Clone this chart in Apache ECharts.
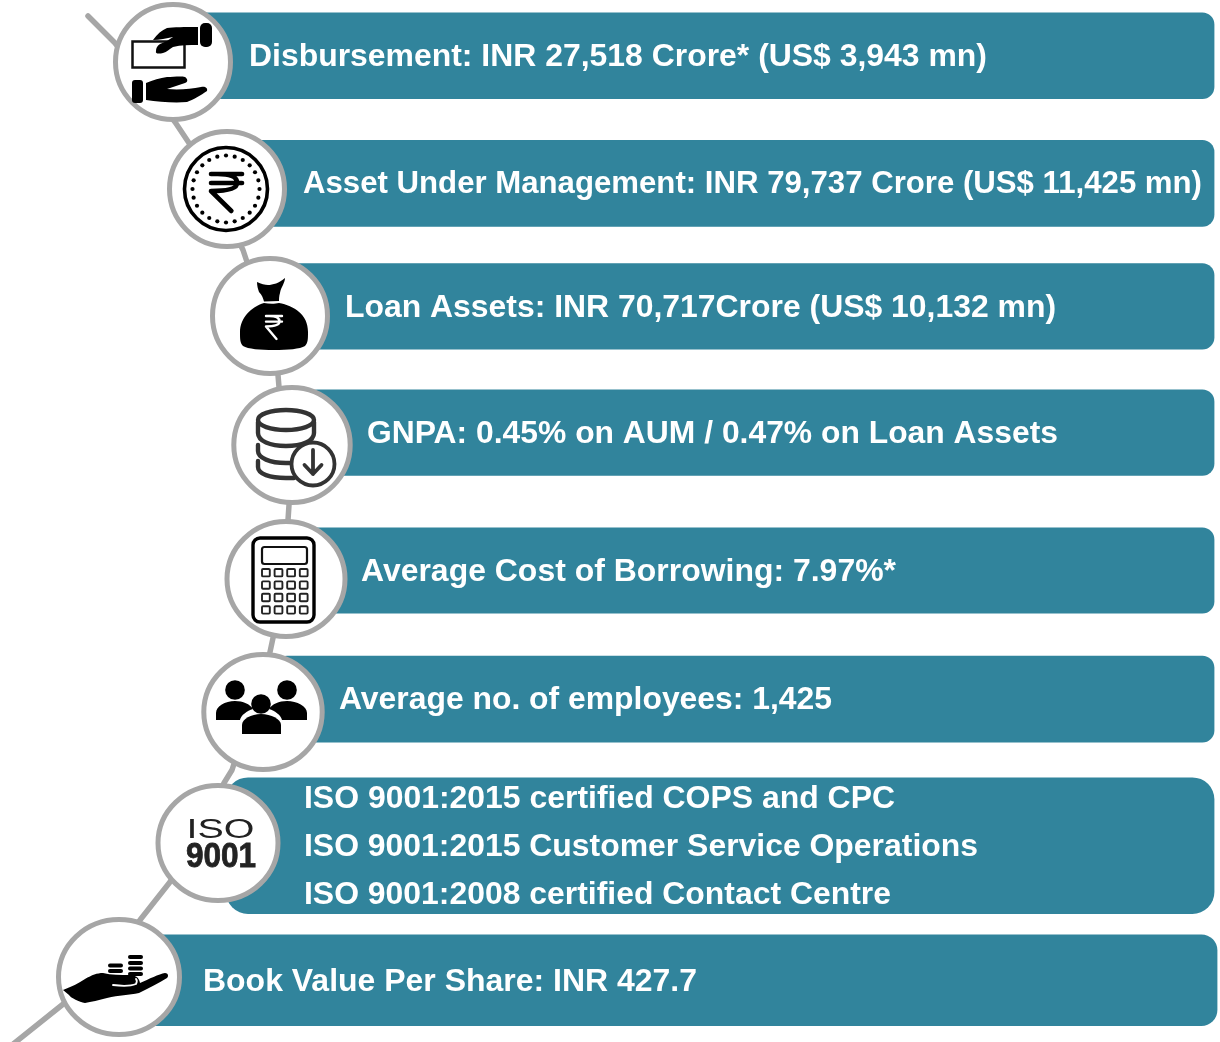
<!DOCTYPE html>
<html>
<head>
<meta charset="utf-8">
<title>Key highlights</title>
<script src="https://cdn.jsdelivr.net/npm/echarts@6/dist/echarts.min.js"></script>
<style>
  html, body { margin: 0; padding: 0; background: #fff; }
  #chart { width: 1220px; height: 1042px; }
</style>
</head>
<body>
<div id="chart"></div>
<script>
// text of each row, top to bottom
const rowLabels = [
  'Disbursement: INR 27,518 Crore* (US$ 3,943 mn)',
  'Asset Under Management: INR 79,737 Crore (US$ 11,425 mn)',
  'Loan Assets: INR 70,717Crore (US$ 10,132 mn)',
  'GNPA: 0.45% on AUM / 0.47% on Loan Assets',
  'Average Cost of Borrowing: 7.97%*',
  'Average no. of employees: 1,425',
  'ISO 9001:2015 certified COPS and CPC',
  'ISO 9001:2015 Customer Service Operations',
  'ISO 9001:2008 certified Contact Centre',
  'Book Value Per Share: INR 427.7'
]
const rowIcons = ['hands', 'coin', 'bag', 'database', 'calculator', 'people', 'iso', 'palm']
const isoBadge = ['ISO', '9001']

// layout, in picture pixels (the axes below run 0-1220 and 0-1042)
const barBoxes = [
  [190, 12.6, 1214.4, 99, 12, 12],
  [240, 140, 1214.4, 226.7, 12, 12],
  [285, 263.3, 1214.4, 349.6, 12, 12],
  [305, 389.4, 1214.4, 475.8, 12, 12],
  [300, 527.4, 1214.4, 613.6, 12, 12],
  [275, 655.7, 1214.4, 742.4, 12, 12],
  [226, 777.4, 1214.4, 914, 22, 22],
  [125, 934.4, 1217.4, 1026, 16, 16]
]
// centre x, centre y, half width of the ring (the lower rings are a bit stretched)
const circleCentres = [
  [173, 62, 60], [227, 189, 60], [270, 316, 60], [292, 445, 60.7],
  [286, 579, 61.5], [263, 712, 61.7], [218, 843, 62.5], [119, 977, 63]
]
const spineX = [88, 115, 175, 189, 243, 247, 278, 279, 289, 288, 273, 270, 232, 224, 170, 140, 62, 12]
const spineY = [16, 43, 122, 143, 250, 262, 375, 387, 505, 520, 638, 652, 770, 783, 882, 920, 1005, 1045]
// x, middle y, width
const labelBoxes = [
  [249, 57, 738], [303, 184, 899], [345, 308, 711], [367, 434, 691], [361, 572, 535],
  [339, 700, 493], [304, 799, 591], [304, 847, 674], [304, 895, 587], [203, 982, 494]
]

const TEAL = '#31849c'
const GREY = '#a6a6a6'
const LABEL_FONT = 'bold 31px "Liberation Sans", Arial, sans-serif'

// icon pieces are drawn in a 120x120 box around the circle centre
const piece = (d, style) => ({
  type: 'path',
  shape: { pathData: 'M0 0M120 120' + d, x: 0, y: 0, width: 120, height: 120, layout: 'cover' },
  style: style
})
const solid = (d, color) => piece(d, { fill: color || '#000' })
const outline = (d, width, color, fill) => piece(d, {
  fill: fill || 'none',
  stroke: color || '#000',
  lineWidth: width,
  lineCap: 'round',
  lineJoin: 'round'
})
const box = (x, y, w, h, r, style) => ({ type: 'rect', shape: { x, y, width: w, height: h, r }, style })
const rupee = (x, y, sx, sy) => {
  const p = (a, b) => (x + a * sx) + ' ' + (y + b * sy)
  return 'M' + p(0, 0) + 'L' + p(32, 0) + 'M' + p(0, 9) + 'L' + p(32, 9)
    + 'M' + p(7, 0) + 'C' + p(22, 0) + ' ' + p(27, 4) + ' ' + p(27, 9)
    + 'C' + p(27, 14) + ' ' + p(20, 17) + ' ' + p(0, 17) + 'L' + p(21, 37)
}

const iconShapes = {
  hands: () => [
    box(87, 21, 12, 24, 5, { fill: '#000' }),
    box(19.500, 39.500, 52, 26, 0, { fill: 'none', stroke: '#111', lineWidth: 2.5 }),
    solid('M40 38C44 32 49 28 54 26C60 25 72 25 85 25L85 43C76 43 68 43 60 45C56 47 54 50 50 51C46 52 42 52 43 49C43 46 44 44 47 42C52 40 56 38 60 35C54 36 46 38 40 38Z'),
    box(19, 78, 11, 23, 3, { fill: '#000' }),
    solid('M33 81C40 78 47 76 54 75C60 75 68 74 72 75C75 77 75 80 72 81C66 83 60 85 54 87C66 88 78 87 88 85C92 84 95 86 94 89C88 93 80 98 74 100C62 101 46 100 33 98Z')
  ],
  coin: () => {
    const dots = []
    for (let i = 0; i < 24; i++) {
      const a = i / 24 * Math.PI * 2
      dots.push({
        type: 'circle',
        shape: { cx: 59 + 33.5 * Math.cos(a), cy: 60 + 33.5 * Math.sin(a), r: 2.1 },
        style: { fill: '#000' }
      })
    }
    return [
      { type: 'circle', shape: { cx: 59, cy: 60, r: 41.5 }, style: { fill: '#fff', stroke: '#000', lineWidth: 3.6 } },
      ...dots,
      outline(rupee(44, 45, 0.97, 1), 4.6)
    ]
  },
  bag: () => [
    solid('M47 26C51 28 55 29 58 29C63 29 69 27 75 22C75 27 71 31 70 37C69 40 69 43 69 45L54 45.500C53 42 52 39 49 36C48 33 47 30 47 26Z'),
    solid('M54 47C59 48 65 48 69 47C84 50 98 58 98 76C98 83 98 87 95 90C90 93 78 94 64 94C50 94 38 93 33 90C30 87 30 83 30 76C30 62 41 51 54 47Z'),
    outline(rupee(56, 60, 0.5, 0.62), 2.4, '#fff')
  ],
  database: () => [
    { type: 'ellipse', shape: { cx: 54, cy: 35, rx: 28, ry: 10 }, style: { fill: '#fff', stroke: '#333', lineWidth: 4.4 } },
    outline('M26 37L26 48C26 56 38 61 54 61C70 61 82 56 82 48L82 37', 4.4, '#333'),
    outline('M26 60L26 66C26 73 38 78 54 78L60 78', 4.4, '#333'),
    outline('M26 76L26 82C26 89 38 93 54 93L62 93', 4.4, '#333'),
    { type: 'circle', shape: { cx: 81, cy: 79, r: 21.5 }, style: { fill: '#fff', stroke: '#333', lineWidth: 3.8 } },
    outline('M81 65L81 89M72.500 80L81 89L89.500 80', 3.8, '#333')
  ],
  calculator: () => {
    const keys = []
    for (let r = 0; r < 4; r++) {
      for (let c = 0; c < 4; c++) {
        keys.push(box(36 + c * 12.6, 50 + r * 12.4, 7.8, 7.4, 1, { fill: 'none', stroke: '#222', lineWidth: 1.9 }))
      }
    }
    return [
      box(27, 19, 61, 84, 7, { fill: '#fff', stroke: '#000', lineWidth: 3.4 }),
      box(36, 28, 45, 17, 2.5, { fill: 'none', stroke: '#111', lineWidth: 2.2 }),
      ...keys
    ]
  },
  people: () => [
    { type: 'circle', shape: { cx: 32, cy: 38, r: 9.8 }, style: { fill: '#000' } },
    { type: 'circle', shape: { cx: 84, cy: 38, r: 9.8 }, style: { fill: '#000' } },
    solid('M13 68L13 61C13 54 22 49 32 49C40 49 47 52 50 57C44 59 38 63 37 68Z'),
    solid('M104 68L104 61C104 54 94 49 84 49C76 49 69 52 66 57C72 59 78 63 79 68Z'),
    { type: 'circle', shape: { cx: 58, cy: 52, r: 9.8 }, style: { fill: '#000' } },
    solid('M39 82L39 73C39 67 48 62 58 62C68 62 78 67 78 73L78 82Z')
  ],
  iso: () => [
    {
      type: 'text', x: 62.500, y: 47.500, scaleX: 1.46,
      style: { text: isoBadge[0], font: '27px "Liberation Sans", Arial, sans-serif', fill: '#222', align: 'center', verticalAlign: 'middle' }
    },
    {
      type: 'text', x: 63, y: 74, scaleX: 0.9, 
      style: { text: isoBadge[1], font: 'bold 35px "Liberation Sans", Arial, sans-serif', fill: '#222', stroke: '#222', lineWidth: 0.8, align: 'center', verticalAlign: 'middle' }
    }
  ],
  palm: () => [
    box(69, 38, 15, 4, 2, { fill: '#000' }),
    box(69, 44, 15, 4, 2, { fill: '#000' }),
    box(69, 49.500, 15, 4, 2, { fill: '#000' }),
    box(69, 55, 15, 4, 2, { fill: '#000' }),
    box(49, 46.500, 15, 4, 2, { fill: '#000' }),
    box(49, 52, 15, 4, 2, { fill: '#000' }),
    solid('M4 73C12 70 20 66 26 62C33 58 38 56 44 56C52 58 62 58 70 58C76 58 80 60 81 66C90 62 100 57 106 56C109 56 110 59 108 61C100 66 90 71 80 76C70 78 60 78 48 81C40 83 32 85 26 86C20 85 12 81 10 78Z'),
    outline('M54 68C62 69 72 69 77 67C78 65 78 63 77 62', 1.8, '#fff')
  ]
}

const chart = echarts.init(document.getElementById('chart'), null, { renderer: 'canvas' })

// shrink or stretch a label a little so it has the reference's width
const measureCtx = document.createElement('canvas').getContext('2d')
measureCtx.font = LABEL_FONT
const labelScale = (text, width) => width / measureCtx.measureText(text).width

const option = {
  animation: false,
  grid: { left: 0, right: 0, top: 0, bottom: 0 },
  xAxis: { type: 'value', min: 0, max: 1220, show: false },
  yAxis: { type: 'value', min: 0, max: 1042, inverse: true, show: false },
  series: [
    {
      name: 'spine',
      type: 'line',
      z: 1,
      silent: true,
      symbol: 'none',
      clip: false,
      data: spineX.map((x, i) => [x, spineY[i]]),
      lineStyle: { color: GREY, width: 5.5, cap: 'round', join: 'round' }
    },
    {
      name: 'bars',
      type: 'custom',
      z: 2,
      silent: true,
      clip: false,
      data: barBoxes,
      renderItem: (params, api) => {
        const a = api.coord([api.value(0), api.value(1)])
        const b = api.coord([api.value(2), api.value(3)])
        const r = api.value(4)
        const l = api.value(5)
        return {
          type: 'rect',
          shape: { x: a[0], y: a[1], width: b[0] - a[0], height: b[1] - a[1], r: [l, r, r, l] },
          style: { fill: TEAL }
        }
      }
    },
    {
      name: 'labels',
      type: 'custom',
      z: 3,
      silent: true,
      clip: false,
      data: labelBoxes,
      renderItem: (params, api) => {
        const p = api.coord([api.value(0), api.value(1)])
        const text = rowLabels[params.dataIndex]
        return {
          type: 'text',
          x: p[0],
          y: p[1],
          scaleX: labelScale(text, api.value(2)),
          style: { text: text, font: LABEL_FONT, fill: '#fff', align: 'left', verticalAlign: 'middle' }
        }
      }
    },
    {
      name: 'icons',
      type: 'custom',
      z: 4,
      silent: true,
      clip: false,
      data: circleCentres,
      renderItem: (params, api) => {
        const c = api.coord([api.value(0), api.value(1)])
        return {
          type: 'group',
          x: c[0] - 60,
          y: c[1] - 60,
          children: [
            { type: 'ellipse', shape: { cx: 60, cy: 60, rx: api.value(2) - 2.5, ry: 57.5 }, style: { fill: '#fff', stroke: GREY, lineWidth: 5 } },
            ...iconShapes[rowIcons[params.dataIndex]]()
          ]
        }
      }
    }
  ]
}

chart.setOption(option)
</script>
</body>
</html>
